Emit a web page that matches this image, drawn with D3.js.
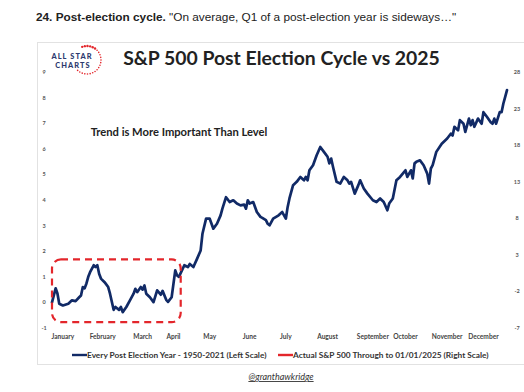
<!DOCTYPE html>
<html>
<head>
<meta charset="utf-8">
<script src="https://cdn.jsdelivr.net/npm/d3@7"></script>
<style>
  html, body { margin: 0; padding: 0; background: #fff; }
  svg { display: block; }
</style>
</head>
<body>
<svg id="chart" width="524" height="392"></svg>
<script>
// ---- Data ----
const postElectionDays = [0,2,3,4,6,9,11,13,15,16,17,18,19,20,21,23,24,25,26,27,29,31,32,34,35,37,38,39,41,43,45,46,47,49,50,51,52,54,56,58,60,61,63,64,66,68,69,70,72,73,75,76,78,80,82,83,85,87,89,91,93,94,96,98,100,102,104,106,107,108,109,111,113,115,116,118,119,120,122,125,127,129,130,131,133,135,137,139,140,141,142,144,146,148,150,152,153,154,155,157,159,161,163,164,165,167,169,170,172,174,177,179,181,183,185,186,188,190,192,195,196,198,199,200,201,203,205,207,208,209,210,212,215,218,220,221,222,224,225,227,228,230,231,232,233,235,237,238,240,242,243,244,245,247,248,249,250,251];
const postElectionValues = [0.0,0.55,0.35,-0.05,-0.12,-0.05,0.08,0.05,0.2,0.27,0.6,0.55,0.74,1.0,1.18,1.45,1.38,1.45,1.12,0.93,0.79,0.6,0.34,-0.29,-0.18,-0.29,-0.18,-0.38,-0.18,0.08,0.34,0.53,0.4,0.6,0.5,0.66,0.34,0.2,0.01,0.47,0.3,0.45,0.1,0.02,0.2,1.25,1.05,1.0,1.3,1.45,1.38,1.5,1.38,1.7,2.03,2.68,3.27,3.27,2.88,3.07,3.4,3.66,4.11,3.92,3.99,3.86,3.79,3.82,3.66,3.99,3.86,3.92,3.53,3.34,3.3,3.21,3.07,3.01,3.27,3.4,3.53,3.27,3.73,4.06,4.58,4.71,4.9,4.77,4.9,4.77,5.16,5.36,5.75,6.07,5.88,5.69,5.43,5.62,5.3,4.71,4.64,4.9,4.77,4.64,4.71,4.25,4.58,4.77,4.45,4.25,3.99,3.92,4.06,3.92,3.6,3.86,4.06,4.77,4.9,5.16,4.9,5.16,4.84,5.43,5.49,5.55,5.36,5.03,4.64,5.23,5.36,5.88,6.2,6.4,6.59,6.52,6.86,6.72,7.12,6.98,6.66,7.18,6.92,7.12,6.86,7.18,6.98,7.43,7.24,7.04,6.98,7.18,6.98,7.43,7.43,7.77,8.03,8.29];
// Actual 2025 series (right scale) has no visible data yet
const actual2025Days = [];
const actual2025Values = [];

const monthLabels = ["January","February","March","April","May","June","July","August","September","October","November","December"];
const monthLabelDays = [6,28,50,67,87,109,129,152,177,195,218,238];
const leftTicks = [-1,0,1,2,3,4,5,6,7,8,9];
const rightTicks = [-7,-2,3,8,13,18,23,28];
// Annotation box (day range, left-scale value range)
const boxDays = [0, 71];
const boxValues = [-0.77, 1.68];

// ---- Layout ----
const svg = d3.select("#chart");
const navy = "#112a66";
const red = "#e3262b";

svg.append("rect").attr("width",524).attr("height",392).attr("fill","#fff");

// Header text
const head = svg.append("text").attr("x",36).attr("y",21)
  .attr("font-family","'Liberation Sans', Arial, sans-serif").attr("font-size",11.8).attr("fill","#222");
head.append("tspan").attr("font-weight","bold").text("24. Post-election cycle.");
head.append("tspan").text(" \"On average, Q1 of a post-election year is sideways\u2026\"");

// Card
svg.append("rect").attr("x",37.5).attr("y",42.5).attr("width",490).attr("height",322)
  .attr("fill","#fff").attr("stroke","#e2e2e2").attr("stroke-width",1);

// Scales
const x = d3.scaleLinear().domain([0,251]).range([52,507]);
const yL = d3.scaleLinear().domain([-1,9]).range([328,72]);
const yR = d3.scaleLinear().domain([-7,28]).range([328,72]);

// Logo
const logo = svg.append("g");
logo.append("text").attr("x",72).attr("y",58.5).attr("text-anchor","middle")
  .attr("font-family","Lato, 'DejaVu Sans', sans-serif").attr("font-weight","900")
  .attr("font-size",7.4).attr("letter-spacing",1.1).attr("fill","#2c3a6e").text("ALL STAR");
logo.append("text").attr("x",73).attr("y",67.5).attr("text-anchor","middle")
  .attr("font-family","Lato, 'DejaVu Sans', sans-serif").attr("font-weight","900")
  .attr("font-size",7.4).attr("letter-spacing",1.1).attr("fill","#2c3a6e").text("CHARTS");
const arcAngles = d3.range(-110, 136, 11);
logo.selectAll("circle.dot").data(arcAngles).join("circle")
  .attr("cx", a => 87 + 14*Math.cos(a*Math.PI/180))
  .attr("cy", a => 60 + 14*Math.sin(a*Math.PI/180))
  .attr("r", (a,i) => i < 6 ? 1.2 : 0.8)
  .attr("fill", red);

// Title
svg.append("text").attr("x",281.5).attr("y",64.5).attr("text-anchor","middle")
  .attr("font-family","Lato, 'Open Sans', sans-serif").attr("font-weight","bold")
  .attr("font-size",19.4).attr("fill","#222").text("S&P 500 Post Election Cycle vs 2025");

// Trend text
svg.append("text").attr("x",179).attr("y",136).attr("text-anchor","middle")
  .attr("font-family","Lato, 'Open Sans', sans-serif").attr("font-weight","bold")
  .attr("font-size",11.2).attr("fill","#222").text("Trend is More Important Than Level");

// Left axis labels
svg.append("g").selectAll("text").data(leftTicks).join("text")
  .attr("x",44).attr("y",d => yL(d)+2).attr("text-anchor","middle")
  .attr("font-family","Lato, sans-serif").attr("font-size",5.5).attr("font-weight","bold").attr("fill","#555")
  .text(d => d);

// Right axis labels
svg.append("g").selectAll("text").data(rightTicks).join("text")
  .attr("x",517).attr("y",d => yR(d)+2).attr("text-anchor","middle")
  .attr("font-family","Lato, sans-serif").attr("font-size",5.5).attr("font-weight","bold").attr("fill","#555")
  .text(d => d);

// Month labels
svg.append("g").selectAll("text").data(monthLabels).join("text")
  .attr("x",(d,i) => x(monthLabelDays[i])).attr("y",339).attr("text-anchor","middle")
  .attr("font-family","Lato, sans-serif").attr("font-size",6.6).attr("font-weight","bold").attr("fill","#444")
  .text(d => d);

// Lines
const pts = postElectionDays.map((d,i) => [d, postElectionValues[i]]);
const line = d3.line().x(d => x(d[0])).y(d => yL(d[1])).curve(d3.curveLinear);
svg.append("path").datum(pts).attr("d",line).attr("fill","none")
  .attr("stroke",navy).attr("stroke-width",2.7).attr("stroke-linejoin","round").attr("stroke-linecap","round");

if (actual2025Days.length > 1) {
  const pts2 = actual2025Days.map((d,i) => [d, actual2025Values[i]]);
  svg.append("path").datum(pts2)
    .attr("d", d3.line().x(d => x(d[0])).y(d => yR(d[1])))
    .attr("fill","none").attr("stroke",red).attr("stroke-width",2.7);
}

// Dashed annotation box
svg.append("rect")
  .attr("x", x(boxDays[0])).attr("y", yL(boxValues[1]))
  .attr("width", x(boxDays[1]) - x(boxDays[0])).attr("height", yL(boxValues[0]) - yL(boxValues[1]))
  .attr("rx",9).attr("ry",9).attr("fill","none").attr("stroke",red)
  .attr("stroke-width",2.2).attr("stroke-dasharray","7,5");

// Legend
const lg = svg.append("g").attr("font-family","Lato, sans-serif").attr("font-weight","bold")
  .attr("font-size",8.3).attr("fill","#333");
lg.append("line").attr("x1",72).attr("x2",87).attr("y1",355).attr("y2",355).attr("stroke",navy).attr("stroke-width",2.4);
lg.append("text").attr("x",87).attr("y",358).text("Every Post Election Year - 1950-2021 (Left Scale)");
lg.append("line").attr("x1",278).attr("x2",293).attr("y1",355).attr("y2",355).attr("stroke",red).attr("stroke-width",2.4);
lg.append("text").attr("x",293).attr("y",358).text("Actual S&P 500 Through to 01/01/2025 (Right Scale)");

// Footer
svg.append("text").attr("x",281).attr("y",380).attr("text-anchor","middle")
  .attr("font-family","Lato, sans-serif").attr("font-size",9).attr("font-style","italic")
  .attr("text-decoration","underline").attr("fill","#333").text("@granthawkridge");
</script>
</body>
</html>
